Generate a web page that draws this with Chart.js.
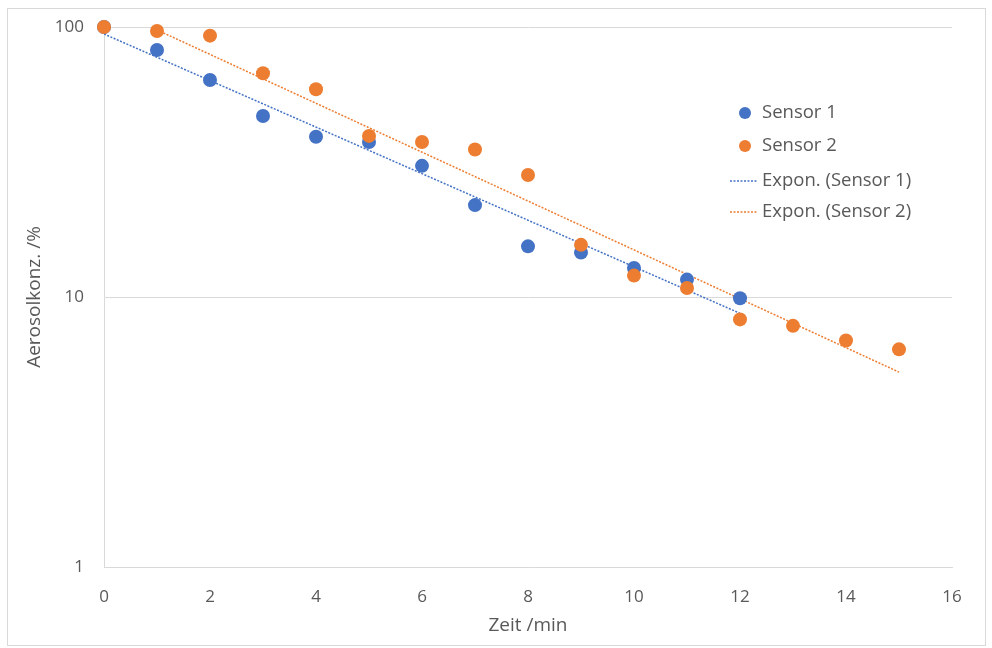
<!DOCTYPE html>
<html>
<head>
<meta charset="utf-8">
<script src="https://cdn.jsdelivr.net/npm/chart.js@4"></script>
<style>
  html, body { margin: 0; padding: 0; background: #fff; }
  #wrap { position: relative; width: 992px; height: 648px; }
  #frame { position: absolute; left: 7px; top: 8px; width: 977px; height: 636px; border: 1px solid #d9d9d9; pointer-events: none; }
</style>
</head>
<body>
<div id="wrap">
  <canvas id="chart" width="992" height="648"></canvas>
  <div id="frame"></div>
</div>
<script>
// Zeit /min
const times1 = [0, 1, 2, 3, 4, 5, 6, 7, 8, 9, 10, 11, 12];
const times2 = [0, 1, 2, 3, 4, 5, 6, 7, 8, 9, 10, 11, 12, 13, 14, 15];
// Aerosolkonz. /%
const sensor1 = [100, 82.2, 63.6, 46.8, 39.2, 37.5, 30.6, 21.9, 15.4, 14.6, 12.8, 11.6, 9.9];
const sensor2 = [100, 96.6, 92.9, 67.4, 58.8, 39.5, 37.5, 35.2, 28.3, 15.6, 12.0, 10.8, 8.26, 7.82, 6.9, 6.4];
// trendline ends
const trend1X = [0, 12];
const trend1Y = [94.2, 8.7];
const trend2X = [1, 15];
const trend2Y = [97.5, 5.27];

const xTicks = [0, 2, 4, 6, 8, 10, 12, 14, 16];
const yTicks = [1, 10, 100];

const blue = '#4472C4';
const orange = '#ED7D31';
const textColor = '#595959';
const gridColor = '#d9d9d9';
const font = '"Open Sans", Lato, sans-serif';

const toPoints = (xs, ys) => xs.map((x, i) => ({ x: x, y: ys[i] }));

// legend drawn on the right inside the plot like the original
const sideLegend = {
    id: 'sideLegend',
    afterDraw(chart) {
        const c = chart.ctx;
        const left = 745, rows = [113, 146, 181, 212];
        c.save();
        c.font = '18.5px ' + font;
        c.textBaseline = 'middle';
        chart.data.datasets.forEach((ds, i) => {
            const y = rows[i];
            if (ds.showLine) {
                c.strokeStyle = ds.borderColor;
                c.lineWidth = 1.5;
                c.setLineDash([2, 1.5]);
                c.beginPath();
                c.moveTo(left - 15, y);
                c.lineTo(left + 13, y);
                c.stroke();
                c.setLineDash([]);
            } else {
                c.fillStyle = ds.backgroundColor;
                c.beginPath();
                c.arc(left, y, 6, 0, Math.PI * 2);
                c.fill();
            }
            c.fillStyle = textColor;
            c.fillText(ds.label, left + 17, y);
        });
        c.restore();
    }
};

new Chart(document.getElementById('chart'), {
    type: 'scatter',
    data: {
        datasets: [
            {
                label: 'Sensor 1',
                data: toPoints(times1, sensor1),
                backgroundColor: blue,
                borderColor: blue,
                pointRadius: 7,
                pointBorderWidth: 0,
                clip: false,
                order: 2
            },
            {
                label: 'Sensor 2',
                data: toPoints(times2, sensor2),
                backgroundColor: orange,
                borderColor: orange,
                pointRadius: 7,
                pointBorderWidth: 0,
                clip: false,
                order: 1
            },
            {
                label: 'Expon. (Sensor 1)',
                data: toPoints(trend1X, trend1Y),
                showLine: true,
                borderColor: blue,
                borderWidth: 1.5,
                borderDash: [2, 1.5],
                pointRadius: 0,
                order: 4
            },
            {
                label: 'Expon. (Sensor 2)',
                data: toPoints(trend2X, trend2Y),
                showLine: true,
                borderColor: orange,
                borderWidth: 1.5,
                borderDash: [2, 1.5],
                pointRadius: 0,
                order: 3
            }
        ]
    },
    options: {
        animation: false,
        responsive: false,
        layout: { padding: { left: 0, right: 40, top: 27, bottom: 0 } },
        plugins: {
            legend: { display: false },
            tooltip: { enabled: false }
        },
        scales: {
            x: {
                type: 'linear',
                min: 0,
                max: 16,
                afterBuildTicks: s => { s.ticks = xTicks.map(v => ({ value: v })); },
                afterFit: s => { s.height = 81; },
                grid: { display: false, drawTicks: false },
                border: { display: true, color: gridColor, width: 1 },
                ticks: { color: textColor, font: { family: font, size: 17 }, padding: 20 },
                title: { display: true, text: 'Zeit /min', color: textColor, font: { family: font, size: 19 }, padding: { top: 0, bottom: 11 } }
            },
            y: {
                type: 'logarithmic',
                min: 1,
                max: 100,
                afterBuildTicks: s => { s.ticks = yTicks.map(v => ({ value: v })); },
                afterFit: s => { s.width = 104; s.paddingTop = 0; s.paddingBottom = 0; },
                grid: { color: gridColor, drawTicks: false },
                border: { display: true, color: gridColor, width: 1 },
                ticks: { color: textColor, font: { family: font, size: 17 }, padding: 20, callback: v => String(v) },
                title: { display: true, text: 'Aerosolkonz. /%', color: textColor, font: { family: font, size: 19 }, padding: { top: 23, bottom: 0 } }
            }
        }
    },
    plugins: [sideLegend]
});
</script>
</body>
</html>
